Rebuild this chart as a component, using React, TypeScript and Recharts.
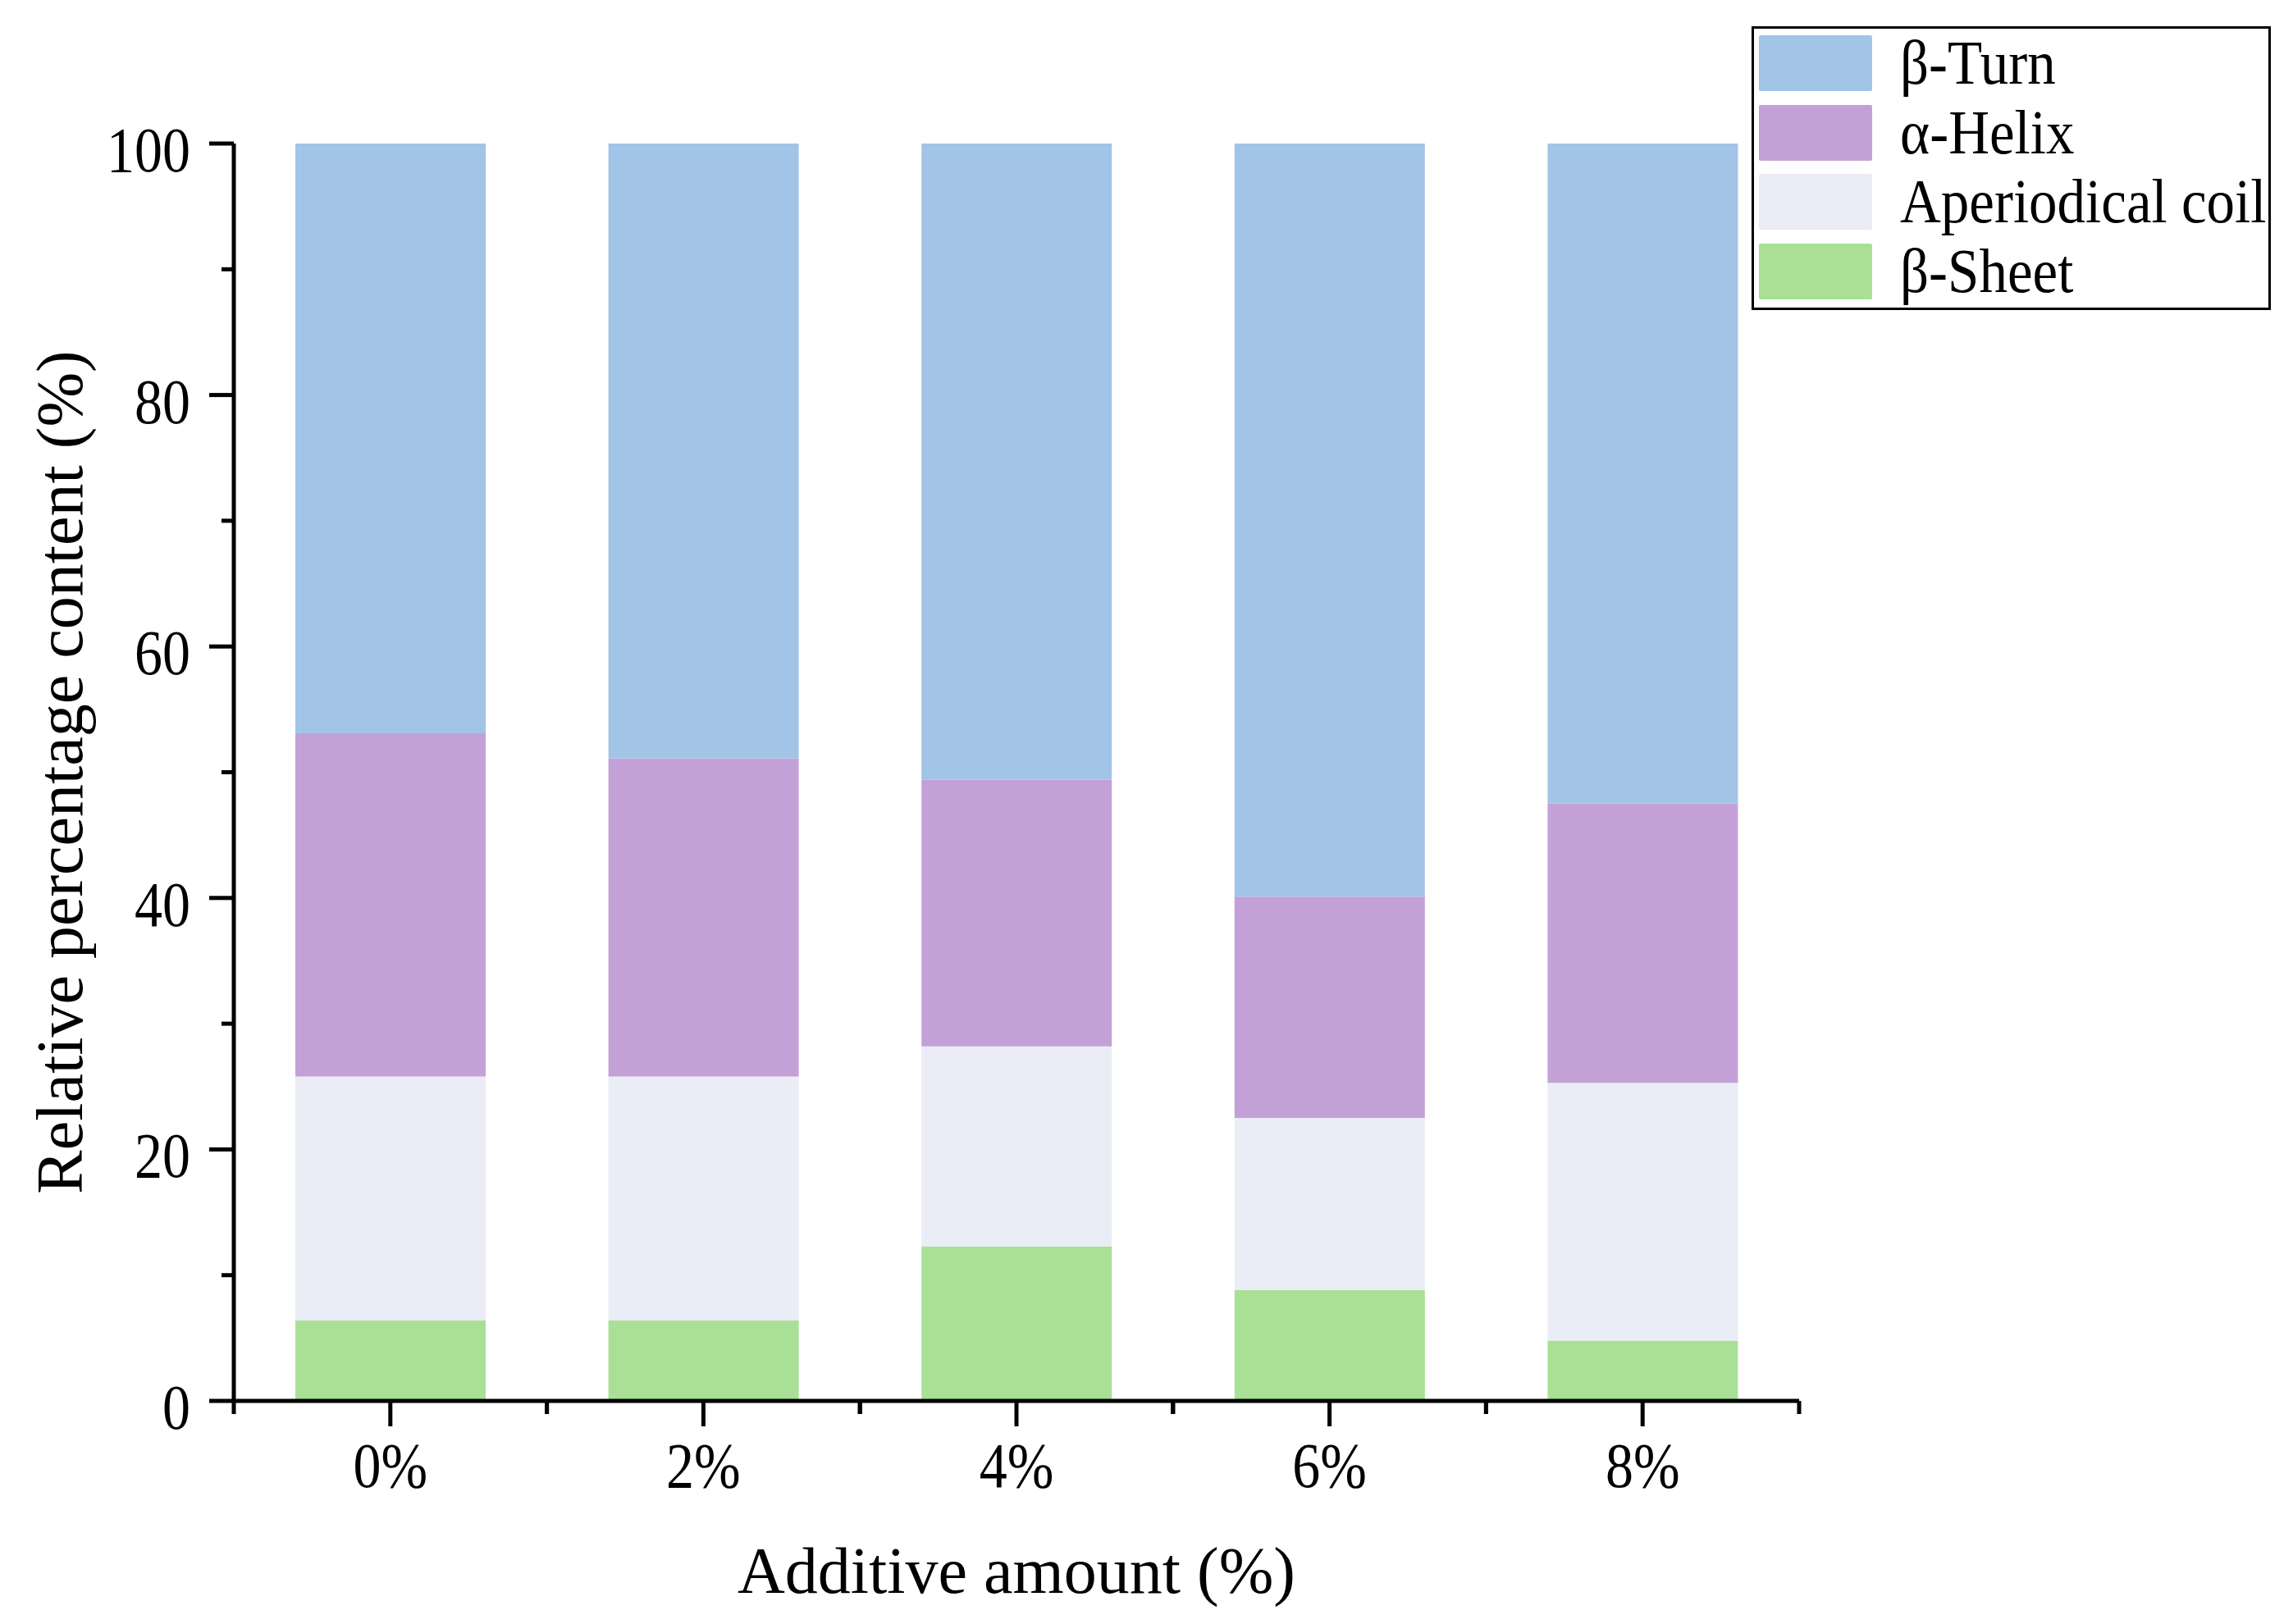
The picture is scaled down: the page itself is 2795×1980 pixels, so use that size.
import React from 'react'
import { BarChart, Bar, XAxis, YAxis, Legend } from 'recharts'

// values (percent of each band)
const categories = ['0%', '2%', '4%', '6%', '8%']
const betaSheet = [6.4, 6.4, 12.3, 8.8, 4.8]
const aperiodicCoil = [19.4, 19.4, 15.9, 13.7, 20.5]
const alphaHelix = [27.3, 25.3, 21.2, 17.6, 22.2]
const betaTurn = [46.9, 48.9, 50.6, 59.9, 52.5]
const yTicks = [0, 10, 20, 30, 40, 50, 60, 70, 80, 90, 100]

const data = categories.map((name, i) => ({
  name,
  sheet: betaSheet[i],
  coil: aperiodicCoil[i],
  helix: alphaHelix[i],
  turn: betaTurn[i],
}))

const series = [
  { key: 'turn', label: 'β-Turn', color: '#a2c4e6' },
  { key: 'helix', label: 'α-Helix', color: '#c3a1d6' },
  { key: 'coil', label: 'Aperiodical coil', color: '#eaedf5' },
  { key: 'sheet', label: 'β-Sheet', color: '#a9e095' },
]

const W = 2795
const H = 1980
const LEFT = 285
const RIGHT = 602
const TOP = 175
const BOTTOM = 272
const FONT = '"Liberation Serif", "Times New Roman", serif'
const band = (W - LEFT - RIGHT) / categories.length

if (typeof document !== 'undefined') document.body.style.margin = '0'

// the original glyphs look a bit taller than Liberation Serif
const STRETCH = 1.15

const YTick = (props: any) => {
  const { x, y, payload } = props
  const major = payload.value % 20 === 0
  return (
    <g>
      <line x1={x} x2={x - (major ? 30 : 15)} y1={y} y2={y} stroke="#000" strokeWidth={5} />
      {major && (
        <text
          transform={`translate(${x - 53}, ${y + 34}) scale(1, ${STRETCH})`}
          textAnchor="end"
          fontSize={68}
          fontFamily={FONT}
          fill="#000"
        >
          {payload.value}
        </text>
      )}
    </g>
  )
}

const XTick = (props: any) => {
  const { x, y, payload } = props
  return (
    <g>
      <line x1={x} x2={x} y1={y} y2={y + 31} stroke="#000" strokeWidth={5} />
      <line x1={x - band / 2} x2={x - band / 2} y1={y} y2={y + 16} stroke="#000" strokeWidth={5} />
      <line x1={x + band / 2} x2={x + band / 2} y1={y} y2={y + 16} stroke="#000" strokeWidth={5} />
      <text
        transform={`translate(${x}, ${y + 105}) scale(1, ${STRETCH})`}
        textAnchor="middle"
        fontSize={68}
        fontFamily={FONT}
        fill="#000"
      >
        {payload.value}
      </text>
    </g>
  )
}

const LegendBox = () => (
  <div
    style={{
      boxSizing: 'border-box',
      width: 633,
      height: 346,
      border: '3px solid #000',
      paddingTop: 8,
      paddingLeft: 6,
      background: '#fff',
      fontFamily: FONT,
      fontSize: 69,
      color: '#000',
    }}
  >
    {series.map((s) => (
      <div key={s.key} style={{ display: 'flex', alignItems: 'center', height: 84.5 }}>
        <div style={{ width: 138, height: 68, background: s.color, borderRadius: 2, marginTop: -16 }} />
        <span
          style={{
            display: 'inline-block',
            marginLeft: 34,
            lineHeight: '68px',
            marginTop: -16,
            whiteSpace: 'nowrap',
            transform: 'scaleY(1.1)',
          }}
        >
          {s.label}
        </span>
      </div>
    ))}
  </div>
)

export default function App() {
  return (
    <div style={{ width: W, height: H, background: '#fff', position: 'relative' }}>
      <BarChart
        width={W}
        height={H}
        data={data}
        margin={{ top: TOP, right: RIGHT, left: 0, bottom: 0 }}
        barSize={232}
      >
        <XAxis
          dataKey="name"
          height={BOTTOM}
          tickSize={0}
          tickMargin={0}
          tickLine={false}
          axisLine={{ stroke: '#000', strokeWidth: 5 }}
          tick={(p: any) => <XTick {...p} />}
          interval={0}
          label={({ viewBox }: any) => (
            <text
              x={viewBox.x + viewBox.width / 2}
              y={viewBox.y + 234}
              textAnchor="middle"
              fontSize={80}
              fontFamily={FONT}
              fill="#000"
            >
              Additive amount (%)
            </text>
          )}
        />
        <YAxis
          width={LEFT}
          domain={[0, 100]}
          ticks={yTicks}
          interval={0}
          tickSize={0}
          tickMargin={0}
          tickLine={false}
          axisLine={{ stroke: '#000', strokeWidth: 5 }}
          tick={(p: any) => <YTick {...p} />}
          label={({ viewBox }: any) => {
            const cx = 100
            const cy = viewBox.y + viewBox.height / 2
            return (
              <text
                x={cx}
                y={cy}
                transform={`rotate(-90, ${cx}, ${cy})`}
                textAnchor="middle"
                fontSize={80}
                fontFamily={FONT}
                fill="#000"
              >
                Relative percentage content (%)
              </text>
            )
          }}
        />
        <Legend
          layout="horizontal"
          align="center"
          verticalAlign="middle"
          content={() => <LegendBox />}
          wrapperStyle={{ left: 2135, top: 32, width: 633, height: 346 }}
        />
        <Bar dataKey="sheet" name="β-Sheet" stackId="a" fill="#a9e095" isAnimationActive={false} />
        <Bar dataKey="coil" name="Aperiodical coil" stackId="a" fill="#eaedf5" isAnimationActive={false} />
        <Bar dataKey="helix" name="α-Helix" stackId="a" fill="#c3a1d6" isAnimationActive={false} />
        <Bar dataKey="turn" name="β-Turn" stackId="a" fill="#a2c4e6" isAnimationActive={false} />
      </BarChart>
    </div>
  )
}
